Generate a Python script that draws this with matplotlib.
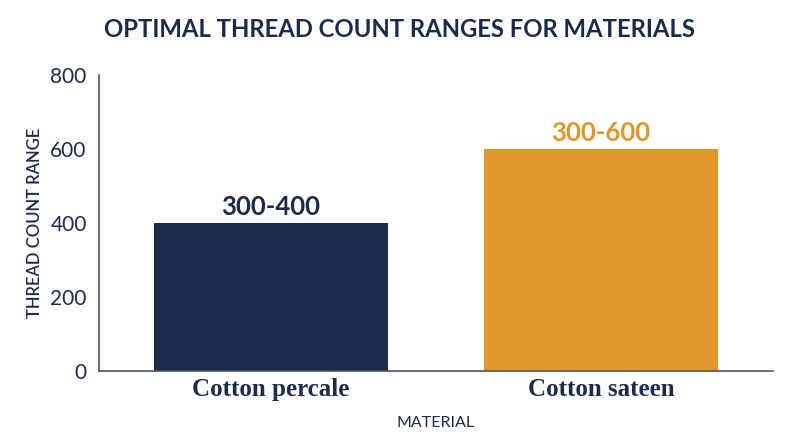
import matplotlib
matplotlib.use("Agg")
import matplotlib.pyplot as plt

### DATA
materials = ["Cotton percale", "Cotton sateen"]
upper_counts = [400, 600]
range_labels = ["300-400", "300-600"]
###

navy = "#1C2B4B"
orange = "#E0962A"
bar_colors = [navy, orange]
label_colors = [navy, orange]

plt.rcParams["font.family"] = ["Lato", "DejaVu Sans"]

fig = plt.figure(figsize=(8, 4.47), dpi=100)
ax = fig.add_axes([0.124, 0.170, 0.842, 0.662])

x = list(range(len(materials)))
bars = ax.bar(x, upper_counts, width=0.71, color=bar_colors)

for rect, text, col in zip(bars, range_labels, label_colors):
	ax.text(rect.get_x() + rect.get_width() / 2, rect.get_height() + 10, text,
		ha="center", va="bottom", fontsize=18.5, fontweight="bold", color=col)

ax.set_xlim(-0.52, 1.52)
ax.set_ylim(0, 800)
ax.set_yticks([0, 200, 400, 600, 800])
ax.set_xticks(x)
ax.set_xticklabels(materials, family="Liberation Serif", fontweight="bold",
	fontsize=18, color=navy)
ax.tick_params(axis="y", labelsize=15, colors=navy, length=0, pad=9)
ax.tick_params(axis="x", length=0, pad=5)

for side in ["top", "right"]:
	ax.spines[side].set_visible(False)
for side in ["left", "bottom"]:
	ax.spines[side].set_color("#4A5468")
	ax.spines[side].set_linewidth(1.2)

ax.set_ylabel("THREAD COUNT RANGE", fontsize=12, fontweight="semibold",
	color=navy, labelpad=5)
ax.set_xlabel("MATERIAL", fontsize=11.5, color=navy, labelpad=11)

fig.suptitle("OPTIMAL THREAD COUNT RANGES FOR MATERIALS", x=0.5, y=0.96,
	fontsize=17.2, fontweight="bold", color=navy)

fig.savefig("out.png", dpi=100)
